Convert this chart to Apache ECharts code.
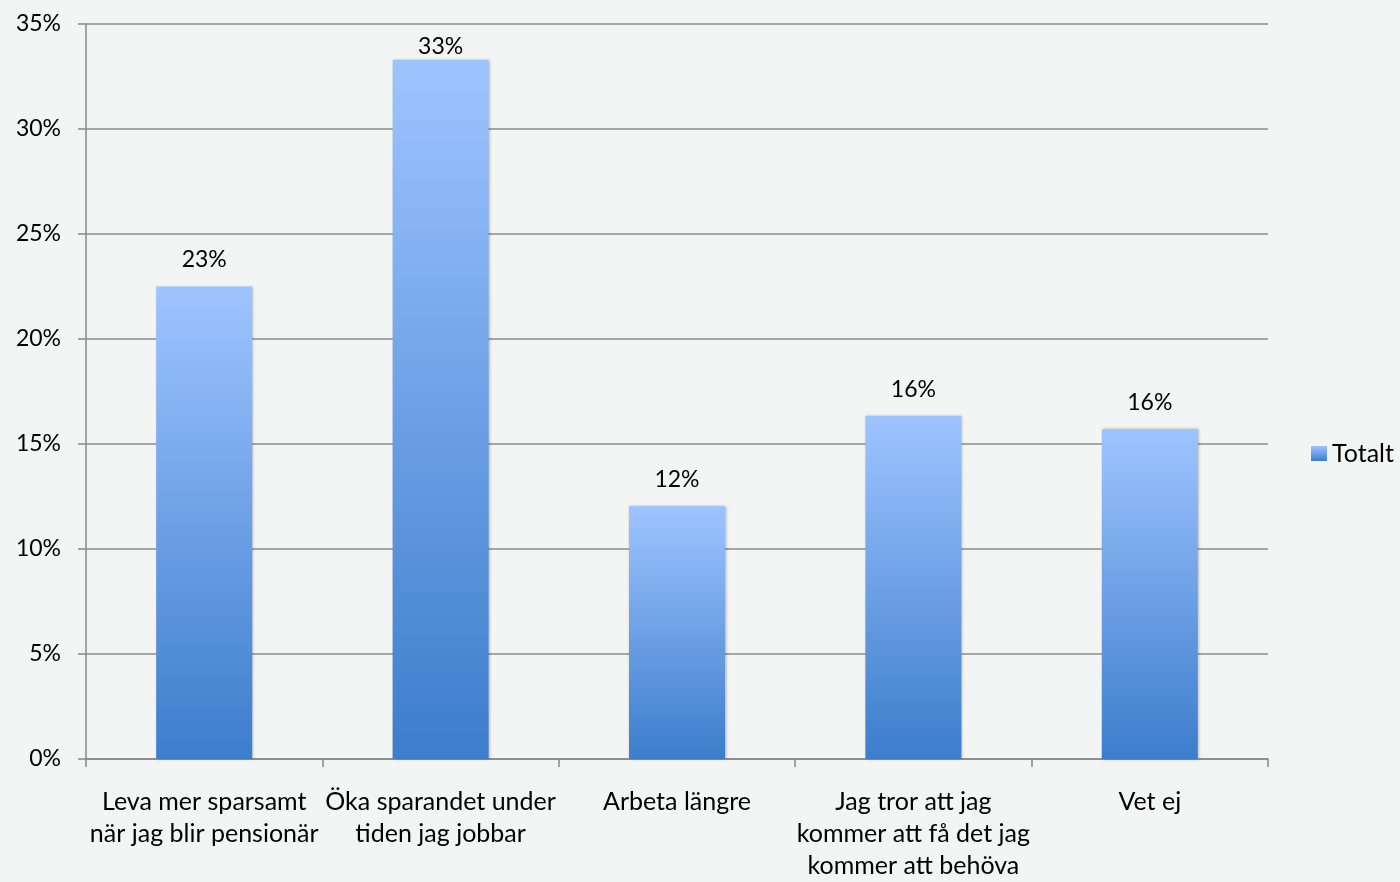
<!DOCTYPE html>
<html>
<head>
<meta charset="utf-8">
<script src="https://cdn.jsdelivr.net/npm/echarts@6/dist/echarts.min.js"></script>
<style>
html,body{margin:0;padding:0;background:#f3f4f4;}
#chart{width:1400px;height:882px;}
</style>
</head>
<body>
<div id="chart"></div>
<script>
var categories = [
  "Leva mer sparsamt\nnär jag blir pensionär",
  "Öka sparandet under\ntiden jag jobbar",
  "Arbeta längre",
  "Jag tror att jag\nkommer att få det jag\nkommer att behöva",
  "Vet ej"
];
var seriesName = "Totalt";
var values = [0.225, 0.333, 0.1205, 0.1635, 0.157];

var chart = echarts.init(document.getElementById('chart'), null, {renderer: 'canvas'});
var font = 'Lato';
var fsNum = 23;
var fsText = 25;
var maxVal = Math.max.apply(null, values);
var barColor = new echarts.graphic.LinearGradient(0, 0, 0, 1, [
  {offset: 0, color: '#9ec4ff'},
  {offset: 1, color: '#3c7dcc'}
]);
var data = values.map(function (v) {
  return {
    value: v,
    label: {distance: v === maxVal ? 2 : 15}
  };
});

chart.setOption({
  backgroundColor: '#f3f4f4',
  textStyle: {fontFamily: font},
  grid: {left: 86, right: 132, top: 24, bottom: 121, containLabel: false},
  legend: {
    data: [{name: seriesName, icon: 'rect'}],
    left: 1306, top: 436, orient: 'vertical',
    itemWidth: 16, itemHeight: 15, itemGap: 6,
    textStyle: {fontFamily: font, fontSize: fsText, color: '#000'}
  },
  xAxis: {
    type: 'category',
    data: categories,
    axisLine: {lineStyle: {color: '#888', width: 1.5}},
    axisTick: {show: true, length: 8, alignWithLabel: false, lineStyle: {color: '#888', width: 1.5}},
    axisLabel: {
      interval: 0, margin: 27, color: '#000', fontSize: fsText, lineHeight: 32,
      fontFamily: font
    }
  },
  yAxis: {
    type: 'value',
    min: 0, max: 0.35, interval: 0.05,
    axisLine: {show: true, lineStyle: {color: '#888', width: 1.5}},
    axisTick: {show: true, length: 8, lineStyle: {color: '#888', width: 1.5}},
    splitLine: {lineStyle: {color: '#8c8c8c', width: 1.5}},
    axisLabel: {
      margin: 25, color: '#000', fontSize: fsNum, fontFamily: font,
      formatter: function (v) { return Math.round(v * 100) + '%'; }
    }
  },
  series: [{
    name: seriesName,
    type: 'bar',
    barWidth: 96,
    data: data,
    itemStyle: {
      color: barColor,
      shadowColor: 'rgba(0,0,0,0.3)', shadowBlur: 3, shadowOffsetX: 1, shadowOffsetY: 0
    },
    label: {
      show: true, position: 'top', color: '#000', fontSize: fsNum, fontFamily: font,
      formatter: function (p) { return Math.round(p.value * 100) + '%'; }
    }
  }]
});
</script>
</body>
</html>
